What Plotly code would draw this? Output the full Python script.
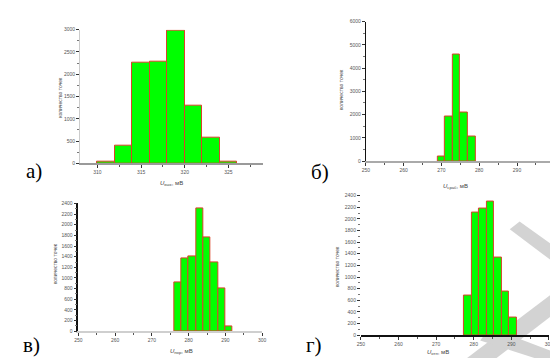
import plotly.graph_objects as go

# ---- data ----
a_centers = [311, 313, 315, 317, 319, 321, 323, 325]
a_counts = [30, 400, 2270, 2290, 2985, 1290, 570, 30]

b_centers = [270, 272, 274, 276, 278]
b_counts = [180, 1915, 4600, 2110, 1055]

v_centers = [277, 279, 281, 283, 285, 287, 289, 291]
v_counts = [910, 1365, 1410, 2300, 1765, 1285, 810, 85]

g_centers = [278.4, 280.4, 282.4, 284.4, 286.4, 288.4, 290.4]
g_counts = [680, 2110, 2180, 2290, 1330, 755, 310]

bin_width = 2
panel_letters = ["а)", "б)", "в)", "г)"]
x_title_main = ["U", "U", "U", "U"]
x_title_sub = ["вых", "сраб", "пор", "отп"]
x_title_unit = ", мВ"
y_title = "количество точек"

W, H = 558, 358

def px(x):
    return x / W

def py(y):
    return 1 - y / H

fig = go.Figure()
panels = [
    (a_centers, a_counts, "x", "y"),
    (b_centers, b_counts, "x2", "y2"),
    (v_centers, v_counts, "x3", "y3"),
    (g_centers, g_counts, "x4", "y4"),
]
for cx, cnt, xa, ya in panels:
    fig.add_trace(go.Bar(
        x=cx, y=cnt, width=[bin_width] * len(cx), xaxis=xa, yaxis=ya,
        marker=dict(color="#00ff00", line=dict(color="#d9432a", width=1)),
        showlegend=False,
    ))

tickfont = dict(size=5, color="#555555", family="Arial, Liberation Sans")

def xaxis(domain, rng, dtick, anchor, linecolor, linewidth, minor_dtick):
    return dict(domain=domain, range=rng, anchor=anchor, dtick=dtick, tick0=0,
                showgrid=False, zeroline=False, showline=True,
                linecolor=linecolor, linewidth=linewidth,
                ticks="outside", ticklen=3, tickcolor="#333", tickwidth=1,
                minor=dict(ticks="outside", ticklen=2, dtick=minor_dtick, tickcolor="#555"),
                tickfont=tickfont, fixedrange=True, ticklabeloverflow="allow")

def yaxis(domain, rng, dtick, anchor, linecolor, linewidth, minor_dtick, showline=True):
    return dict(domain=domain, range=rng, anchor=anchor, dtick=dtick, tick0=0,
                showgrid=False, zeroline=False, showline=showline,
                linecolor=linecolor, linewidth=linewidth,
                ticks="outside", ticklen=3, tickcolor="#333", tickwidth=1,
                minor=dict(ticks="outside", ticklen=2, dtick=minor_dtick, tickcolor="#777"),
                tickfont=tickfont, fixedrange=True)

layout = dict(
    width=W, height=H, margin=dict(l=0, r=0, t=0, b=0),
    paper_bgcolor="white", plot_bgcolor="rgba(0,0,0,0)", bargap=0,
    xaxis=xaxis([px(69), px(255)], [308, 329], 5, "y", "#9a9a9a", 2, 2.5),
    yaxis=yaxis([py(155), py(19)], [0, 3000], 500, "x", "#cccccc", 1, 250),
    xaxis2=xaxis([px(359), px(553)], [250, 300.6], 10, "y2", "#aaaaaa", 2, 5),
    yaxis2=yaxis([py(152.7), py(10.7)], [0, 6000], 1000, "x2", "#111111", 1, 500),
    xaxis3=xaxis([px(67.3), px(254)], [250, 300.05], 10, "y3", "#cfcfcf", 2, 5),
    yaxis3=yaxis([py(325.7), py(195.7)], [0, 2400], 200, "x3", "#111111", 1.5, 100),
    xaxis4=xaxis([px(354), px(545)], [250, 300.05], 10, "y4", "#111111", 1.5, 5),
    yaxis4=yaxis([py(329.7), py(187.7)], [0, 2400], 200, "x4", "#111111", 1, 100, showline=False),
)
fig.update_layout(**layout)

ann = []
letter_pos = [(22, 163), (312, 164), (20, 340), (306, 340)]
for t, (x, y) in zip(panel_letters, letter_pos):
    ann.append(dict(text=t, x=px(x), y=py(y), xref="paper", yref="paper", showarrow=False,
                    xanchor="center", yanchor="middle",
                    font=dict(size=21, family="Liberation Serif, Times New Roman", color="black")))
xt_pos = [(162, 175), (450, 178), (172, 346), (432, 347)]
for m, s, (x, y) in zip(x_title_main, x_title_sub, xt_pos):
    ann.append(dict(text="<i>" + m + "</i><sub>" + s + "</sub>" + x_title_unit,
                    x=px(x), y=py(y), xref="paper", yref="paper", showarrow=False,
                    xanchor="center", yanchor="middle",
                    font=dict(size=6, family="Arial, Liberation Sans", color="#444")))
yt_pos = [(48, 88), (333, 80), (43, 257), (329, 260)]
for x, y in yt_pos:
    ann.append(dict(text=y_title, x=px(x), y=py(y), xref="paper", yref="paper", showarrow=False,
                    xanchor="center", yanchor="middle",
                    textangle=-90, font=dict(size=5, family="Arial, Liberation Sans", color="#444")))
fig.update_layout(annotations=ann)

# watermark stripes (behind the bars)
def poly(pts):
    d = "M " + " L ".join(f"{px(x)},{py(y)}" for x, y in pts) + " Z"
    return dict(type="path", path=d, xref="paper", yref="paper",
                fillcolor="#d3d3d3", line=dict(width=0), layer="below")

shapes = [
    poly([(455, 358), (485, 358), (558, 302), (558, 280)]),
    poly([(475, 335), (485, 322), (558, 350), (558, 362)]),
    poly([(505, 222), (515, 214), (558, 245), (558, 262)]),
]
fig.update_layout(shapes=shapes)

fig.write_html("out.html")
